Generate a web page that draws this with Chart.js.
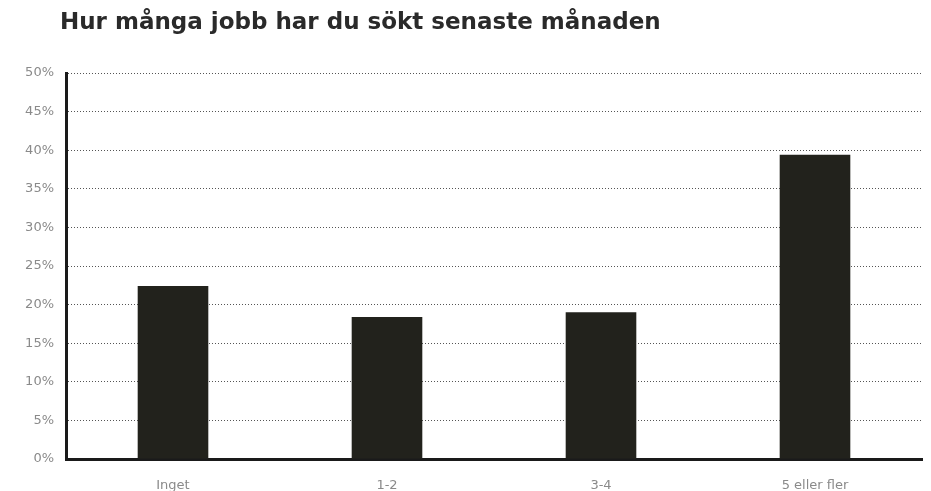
<!DOCTYPE html>
<html>
<head>
<meta charset="utf-8">
<script src="https://cdn.jsdelivr.net/npm/chart.js@4/dist/chart.umd.min.js"></script>
<style>
  html, body { margin: 0; padding: 0; background: #fff; }
  #wrap { width: 931px; height: 491px; }
</style>
</head>
<body>
<div id="wrap"><canvas id="myChart"></canvas></div>
<script>
const titleText = "Hur många jobb har du sökt senaste månaden";
const categories = ["Inget", "1-2", "3-4", "5 eller fler"];
const shares = [22.4, 18.4, 19.0, 39.4];
const yTicks = [0, 5, 10, 15, 20, 25, 30, 35, 40, 45, 50];

// title drawn by hand so it can sit indented from the canvas edge
const indentTitle = {
  id: "indentTitle",
  afterDraw(chart) {
    const c = chart.ctx;
    c.save();
    c.fillStyle = "#2a2a2a";
    c.font = "bold 23px 'DejaVu Sans'";
    c.textBaseline = "middle";
    c.fillText(titleText, 60, 23);
    c.restore();
  }
};

const ctx = document.getElementById("myChart").getContext("2d");
new Chart(ctx, {
  type: "bar",
  data: {
    labels: categories,
    datasets: [{
      label: "Andel",
      data: shares,
      backgroundColor: "#22221c",
      borderWidth: 0,
      barPercentage: 0.33,
      categoryPercentage: 1
    }]
  },
  options: {
    responsive: true,
    maintainAspectRatio: false,
    animation: false,
    layout: { padding: { left: 0, right: 9, top: 73, bottom: 0 } },
    plugins: {
      legend: { display: false },
      tooltip: { enabled: false },
      title: { display: false }
    },
    scales: {
      x: {
        grid: { display: false },
        border: { color: "#1a1a1a", width: 3 },
        ticks: { color: "#8a8a8a", font: { family: "DejaVu Sans", size: 13 }, padding: 11 },
        afterFit: s => { s.height = 32; }
      },
      y: {
        min: 0,
        max: 50,
        afterBuildTicks: s => { s.ticks = yTicks.map(v => ({ value: v })); },
        afterFit: s => { s.width = 66; },
        grid: { color: "#555", lineWidth: 1, drawTicks: false },
        border: { color: "#1a1a1a", width: 3, dash: [1, 2] },
        ticks: {
          color: "#8a8a8a",
          font: { family: "DejaVu Sans", size: 13 },
          padding: 12,
          callback: v => v + "%"
        }
      }
    }
  },
  plugins: [indentTitle]
});
</script>
</body>
</html>
